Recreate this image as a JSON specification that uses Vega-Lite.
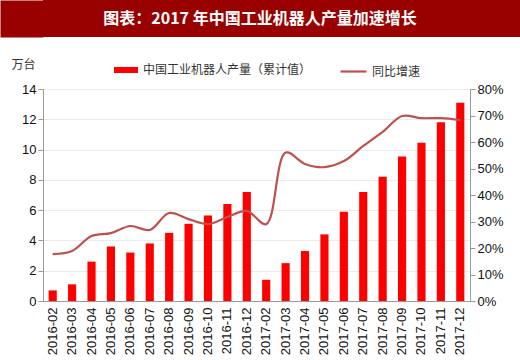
{
  "$schema": "https://vega.github.io/schema/vega-lite/v6.json",
  "padding": 0,
  "background": "white",
  "spacing": 20,
  "resolve": {"legend": {"fill": "independent", "stroke": "independent"}},
  "config": {
    "view": {"stroke": null},
    "font": "Liberation Sans"
  },
  "vconcat": [
    {
      "width": 477,
      "height": 37,
      "view": {"fill": "#990000", "stroke": null},
      "data": {"values": [{"t": "图表：2017 年中国工业机器人产量加速增长"}]},
      "mark": {"type": "text", "color": "#FFFFFF", "fontSize": 16, "fontWeight": "bold", "font": "Noto Sans CJK SC", "baseline": "middle", "align": "center", "dx": -21.5},
      "encoding": {
        "text": {"field": "t"},
        "y": {
          "datum": 0.5,
          "type": "quantitative",
          "scale": {"domain": [0, 1]},
          "axis": {
            "title": null,
            "labels": false,
            "ticks": false,
            "grid": false,
            "offset": 21.5,
            "domainWidth": 43,
            "domainColor": "#990000",
            "domainCap": "butt"
          }
        }
      }
    },
    {
      "width": 427,
      "height": 212,
      "data": {
        "values": [
          {"month": "2016-02", "output": 0.7, "growth": 17.7},
          {"month": "2016-03", "output": 1.1, "growth": 18.9},
          {"month": "2016-04", "output": 2.6, "growth": 24.5},
          {"month": "2016-05", "output": 3.6, "growth": 25.6},
          {"month": "2016-06", "output": 3.2, "growth": 28.3},
          {"month": "2016-07", "output": 3.8, "growth": 26.8},
          {"month": "2016-08", "output": 4.5, "growth": 33.2},
          {"month": "2016-09", "output": 5.1, "growth": 30.9},
          {"month": "2016-10", "output": 5.65, "growth": 29.0},
          {"month": "2016-11", "output": 6.4, "growth": 31.7},
          {"month": "2016-12", "output": 7.2, "growth": 34.0},
          {"month": "2017-02", "output": 1.4, "growth": 29.0},
          {"month": "2017-03", "output": 2.5, "growth": 56.0},
          {"month": "2017-04", "output": 3.3, "growth": 51.7},
          {"month": "2017-05", "output": 4.4, "growth": 50.5},
          {"month": "2017-06", "output": 5.9, "growth": 52.8},
          {"month": "2017-07", "output": 7.2, "growth": 58.5},
          {"month": "2017-08", "output": 8.2, "growth": 63.8},
          {"month": "2017-09", "output": 9.55, "growth": 69.8},
          {"month": "2017-10", "output": 10.45, "growth": 69.0},
          {"month": "2017-11", "output": 11.8, "growth": 69.0},
          {"month": "2017-12", "output": 13.1, "growth": 68.3}
        ]
      },
      "encoding": {
        "x": {
          "field": "month",
          "type": "ordinal",
          "sort": null,
          "scale": {"paddingInner": 0.58, "paddingOuter": 0.29},
          "axis": {
            "title": null,
            "labelAngle": -90,
            "labelAlign": "right",
            "labelBaseline": "middle",
            "labelFontSize": 13,
            "labelColor": "#111111",
            "labelPadding": 6,
            "domainColor": "#999999",
            "ticks": false
          }
        }
      },
      "layer": [
        {
          "mark": {"type": "bar", "color": "#FF0000"},
          "encoding": {
            "y": {
              "field": "output",
              "type": "quantitative",
              "scale": {"domain": [0, 14]},
              "axis": {
                "values": [0, 2, 4, 6, 8, 10, 12, 14],
                "minExtent": 43,
                "title": "万台",
                "titleAngle": 0,
                "titleX": -20,
                "titleY": -25,
                "titleAlign": "center",
                "titleBaseline": "middle",
                "titleFont": "Noto Sans CJK SC",
                "titleFontSize": 12,
                "titleFontWeight": "normal",
                "titleColor": "#333333",
                "labelFontSize": 13,
                "labelColor": "#111111",
                "domainColor": "#999999",
                "tickColor": "#999999",
                "gridColor": "#EBEBEB"
              }
            },
            "fill": {
              "datum": "中国工业机器人产量（累计值）",
              "scale": {"range": ["#FF0000"]},
              "legend": {
                "orient": "none",
                "legendX": 70,
                "legendY": -32,
                "title": null,
                "symbolType": "M-1,-0.25H1V0.25H-1Z",
                "symbolSize": 576,
                "labelFont": "Noto Sans CJK SC",
                "labelFontSize": 12,
                "labelColor": "#333333",
                "labelLimit": 300
              }
            }
          }
        },
        {
          "mark": {"type": "line", "interpolate": "catmull-rom", "strokeWidth": 2.2},
          "encoding": {
            "y": {
              "field": "growth",
              "type": "quantitative",
              "scale": {"domain": [0, 80]},
              "axis": {
                "orient": "right",
                "values": [0, 10, 20, 30, 40, 50, 60, 70, 80],
                "labelExpr": "datum.value + '%'",
                "title": null,
                "grid": false,
                "labelFontSize": 13,
                "labelColor": "#111111",
                "domainColor": "#999999",
                "tickColor": "#999999"
              }
            },
            "stroke": {
              "datum": "同比增速",
              "scale": {"range": ["#C0504D"]},
              "legend": {
                "orient": "none",
                "legendX": 296,
                "legendY": -32,
                "title": null,
                "symbolType": "stroke",
                "symbolSize": 676,
                "symbolStrokeWidth": 2.2,
                "labelFont": "Noto Sans CJK SC",
                "labelFontSize": 12,
                "labelColor": "#333333"
              }
            }
          }
        }
      ],
      "resolve": {"scale": {"y": "independent"}}
    }
  ]
}
